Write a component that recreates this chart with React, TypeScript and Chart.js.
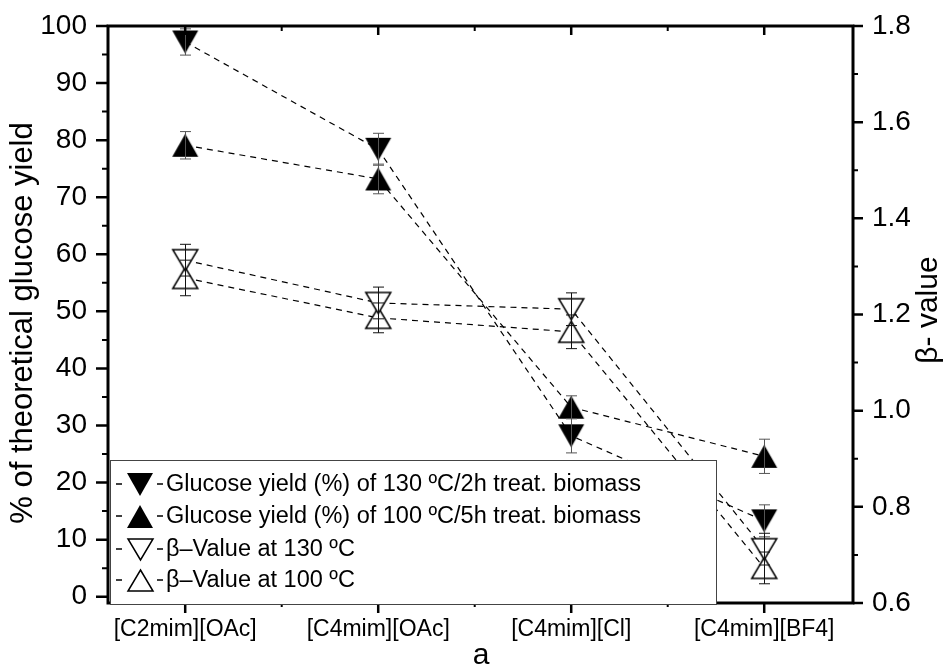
import React, { useEffect, useRef } from 'react';
import { Chart, registerables } from 'chart.js';

Chart.register(...registerables);

const categories = ['[C2mim][OAc]', '[C4mim][OAc]', '[C4mim][Cl]', '[C4mim][BF4]'];
const categoryPositions = [1, 2, 3, 4];

const glucose130 = [97.2, 78.4, 28.2, 13.3];
const glucose130Err = [2.3, 2.8, 3.0, 2.8];
const glucose100 = [79.1, 73.2, 33.2, 24.6];
const glucose100Err = [2.4, 2.6, 2.0, 3.0];
const beta130 = [1.313, 1.224, 1.211, 0.712];
const beta130Err = [0.033, 0.033, 0.034, 0.033];
const beta100 = [1.276, 1.193, 1.164, 0.673];
const beta100Err = [0.037, 0.031, 0.035, 0.033];

const leftTicks = [0, 10, 20, 30, 40, 50, 60, 70, 80, 90, 100];
const leftMinorTicks = [5, 15, 25, 35, 45, 55, 65, 75, 85, 95];
const rightTicks = [0.6, 0.8, 1.0, 1.2, 1.4, 1.6, 1.8];
const rightMinorTicks = [0.7, 0.9, 1.1, 1.3, 1.5, 1.7];
const xMinorTicks = [1.5, 2.5, 3.5];

const legendLabels = [
  'Glucose yield (%) of 130 \u00baC/2h treat. biomass',
  'Glucose yield (%) of 100 \u00baC/5h treat. biomass',
  '\u03b2\u2013Value at 130 \u00baC',
  '\u03b2\u2013Value at 100 \u00baC',
];
const leftTitle = '% of theoretical glucose yield';
const rightTitle = '\u03b2- value';
const bottomTitle = 'a';

const FONT = '"Liberation Sans", Arial, Helvetica, sans-serif';

function makeMarker(dir: 'up' | 'down', filled: boolean, w: number, h: number) {
  const pad = 2;
  const c = document.createElement('canvas');
  c.width = w + pad * 2;
  c.height = h + pad * 2;
  const ctx = c.getContext('2d')!;
  ctx.beginPath();
  if (dir === 'down') {
    ctx.moveTo(pad, pad);
    ctx.lineTo(pad + w, pad);
    ctx.lineTo(pad + w / 2, pad + h);
  } else {
    ctx.moveTo(pad + w / 2, pad);
    ctx.lineTo(pad + w, pad + h);
    ctx.lineTo(pad, pad + h);
  }
  ctx.closePath();
  if (filled) {
    ctx.fillStyle = '#000';
    ctx.fill();
  } else {
    ctx.fillStyle = '#fff';
    ctx.fill();
    ctx.lineWidth = 1.5;
    ctx.strokeStyle = '#000';
    ctx.stroke();
  }
  return c;
}

export default function App() {
  const ref = useRef<HTMLCanvasElement | null>(null);

  useEffect(() => {
    const canvas = ref.current;
    if (!canvas) return;

    const mDownFilled = makeMarker('down', true, 26, 23);
    const mUpFilled = makeMarker('up', true, 26, 23);
    const mDownHollow = makeMarker('down', false, 25, 21);
    const mUpHollow = makeMarker('up', false, 25, 21);
    const markers = [mDownFilled, mUpFilled, mDownHollow, mUpHollow];

    const toPts = (arr: number[]) => arr.map((v, i) => ({ x: categoryPositions[i], y: v }));

    const lineCommon = {
      borderColor: '#000',
      borderWidth: 1.2,
      borderDash: [6, 5],
      showLine: true,
      fill: false,
      tension: 0,
    };

    const errorBarPlugin = {
      id: 'errorBars',
      afterDatasetsDraw(chart: any) {
        const ctx = chart.ctx;
        ctx.save();
        chart.data.datasets.forEach((ds: any, i: number) => {
          const meta = chart.getDatasetMeta(i);
          const ys = chart.scales[ds.yAxisID];
          meta.data.forEach((pt: any, j: number) => {
            const v = ds.data[j].y;
            const e = ds.errors[j];
            const x = Math.round(pt.x) + 0.5;
            const y1 = ys.getPixelForValue(v - e);
            const y2 = ys.getPixelForValue(v + e);
            ctx.strokeStyle = ds.errColor;
            ctx.lineWidth = 1;
            ctx.beginPath();
            ctx.moveTo(x, y1);
            ctx.lineTo(x, y2);
            ctx.moveTo(x - 5.5, y1);
            ctx.lineTo(x + 5.5, y1);
            ctx.moveTo(x - 5.5, y2);
            ctx.lineTo(x + 5.5, y2);
            ctx.stroke();
          });
        });
        ctx.restore();
      },
    };

    const decorPlugin = {
      id: 'decor',
      afterDraw(chart: any) {
        const ctx = chart.ctx;
        const a = chart.chartArea;
        const xs = chart.scales.x;
        const yl = chart.scales.yLeft;
        const yr = chart.scales.yRight;
        ctx.save();
        ctx.strokeStyle = '#000';
        // ticks
        ctx.lineWidth = 2.5;
        ctx.beginPath();
        leftTicks.forEach((t) => {
          const y = yl.getPixelForValue(t);
          ctx.moveTo(a.left - 12, y);
          ctx.lineTo(a.left, y);
        });
        rightTicks.forEach((t) => {
          const y = yr.getPixelForValue(t);
          ctx.moveTo(a.right, y);
          ctx.lineTo(a.right + 10, y);
        });
        categoryPositions.forEach((t) => {
          const x = xs.getPixelForValue(t);
          ctx.moveTo(x, a.bottom);
          ctx.lineTo(x, a.bottom + 10);
          ctx.moveTo(x, a.top);
          ctx.lineTo(x, a.top + 9);
        });
        ctx.stroke();
        ctx.lineWidth = 2;
        ctx.beginPath();
        leftMinorTicks.forEach((t) => {
          const y = yl.getPixelForValue(t);
          ctx.moveTo(a.left - 6, y);
          ctx.lineTo(a.left, y);
        });
        rightMinorTicks.forEach((t) => {
          const y = yr.getPixelForValue(t);
          ctx.moveTo(a.right, y);
          ctx.lineTo(a.right + 5, y);
        });
        xMinorTicks.forEach((t) => {
          const x = xs.getPixelForValue(t);
          ctx.moveTo(x, a.bottom);
          ctx.lineTo(x, a.bottom + 4);
          ctx.moveTo(x, a.top);
          ctx.lineTo(x, a.top + 5);
        });
        ctx.stroke();
        // frame
        ctx.lineWidth = 3;
        ctx.strokeRect(a.left, a.top, a.right - a.left, a.bottom - a.top);

        // legend box
        const lx = 110, ly = 460, lw = 606, lh = 144;
        ctx.fillStyle = '#fff';
        ctx.fillRect(lx, ly, lw, lh);
        ctx.lineWidth = 1;
        ctx.strokeStyle = '#444';
        ctx.strokeRect(lx + 0.5, ly + 0.5, lw, lh);
        const rows = [484, 516, 549, 580];
        ctx.fillStyle = '#000';
        ctx.strokeStyle = '#000';
        ctx.font = `23.5px ${FONT}`;
        ctx.textBaseline = 'middle';
        ctx.textAlign = 'left';
        rows.forEach((ry, i) => {
          ctx.lineWidth = 1.5;
          ctx.beginPath();
          ctx.moveTo(116, ry);
          ctx.lineTo(122, ry);
          ctx.moveTo(157, ry);
          ctx.lineTo(163, ry);
          ctx.stroke();
          const m = markers[i];
          ctx.drawImage(m, Math.round(140 - m.width / 2), Math.round(ry - m.height / 2));
          ctx.fillText(legendLabels[i], 166, ry + 1);
        });

        // axis titles
        ctx.fillStyle = '#000';
        ctx.font = `31px ${FONT}`;
        ctx.textAlign = 'center';
        ctx.textBaseline = 'middle';
        ctx.save();
        ctx.translate(23, 323);
        ctx.rotate(-Math.PI / 2);
        ctx.fillText(leftTitle, 0, 0);
        ctx.restore();
        ctx.font = `30px ${FONT}`;
        ctx.save();
        ctx.translate(929, 310);
        ctx.rotate(-Math.PI / 2);
        ctx.fillText(rightTitle, 0, 0);
        ctx.restore();
        ctx.fillText(bottomTitle, 481, 656);
        ctx.restore();
      },
    };

    const chart = new Chart(canvas, {
      type: 'scatter',
      data: {
        datasets: [
          {
            ...lineCommon,
            label: legendLabels[0],
            data: toPts(glucose130),
            yAxisID: 'yLeft',
            pointStyle: mDownFilled,
            errors: glucose130Err,
            errColor: '#555',
          } as any,
          {
            ...lineCommon,
            label: legendLabels[1],
            data: toPts(glucose100),
            yAxisID: 'yLeft',
            pointStyle: mUpFilled,
            errors: glucose100Err,
            errColor: '#555',
          } as any,
          {
            ...lineCommon,
            label: legendLabels[2],
            data: toPts(beta130),
            yAxisID: 'yRight',
            pointStyle: mDownHollow,
            errors: beta130Err,
            errColor: '#111',
          } as any,
          {
            ...lineCommon,
            label: legendLabels[3],
            data: toPts(beta100),
            yAxisID: 'yRight',
            pointStyle: mUpHollow,
            errors: beta100Err,
            errColor: '#111',
          } as any,
        ],
      },
      options: {
        responsive: false,
        devicePixelRatio: 1,
        animation: false,
        events: [],
        layout: { padding: { top: 26, left: 0, right: 0, bottom: 0 } },
        plugins: { legend: { display: false }, tooltip: { enabled: false } },
        scales: {
          x: {
            type: 'linear',
            position: 'bottom',
            min: 0.6,
            max: 4.46,
            grid: { display: false, drawTicks: false },
            border: { display: false },
            afterBuildTicks: (s: any) => {
              s.ticks = categoryPositions.map((v) => ({ value: v }));
            },
            afterFit: (s: any) => {
              s.height = 68;
              s.paddingLeft = 0;
              s.paddingRight = 0;
            },
            ticks: {
              autoSkip: false,
              maxRotation: 0,
              minRotation: 0,
              padding: 13,
              color: '#000',
              font: { family: FONT, size: 23 },
              callback: (v: any) => categories[categoryPositions.indexOf(Number(v))] ?? '',
            },
          },
          yLeft: {
            type: 'linear',
            position: 'left',
            min: -1.1,
            max: 100,
            grid: { display: false, drawTicks: false },
            border: { display: false },
            afterBuildTicks: (s: any) => {
              s.ticks = leftTicks.map((v) => ({ value: v }));
            },
            afterFit: (s: any) => {
              s.width = 108;
              s.paddingTop = 0;
              s.paddingBottom = 0;
            },
            ticks: {
              padding: 21,
              color: '#000',
              font: { family: FONT, size: 28 },
              callback: (v: any) => String(v),
            },
          },
          yRight: {
            type: 'linear',
            position: 'right',
            min: 0.6,
            max: 1.8,
            grid: { display: false, drawTicks: false },
            border: { display: false },
            afterBuildTicks: (s: any) => {
              s.ticks = rightTicks.map((v) => ({ value: v }));
            },
            afterFit: (s: any) => {
              s.width = 98;
              s.paddingTop = 0;
              s.paddingBottom = 0;
            },
            ticks: {
              padding: 19,
              color: '#000',
              font: { family: FONT, size: 28 },
              callback: (v: any) => Number(v).toFixed(1),
            },
          },
        },
      } as any,
      plugins: [errorBarPlugin, decorPlugin],
    });

    return () => chart.destroy();
  }, []);

  return (
    <div style={{ position: 'fixed', left: 0, top: 0, width: 951, height: 671, background: '#fff' }}>
      <canvas ref={ref} width={951} height={671} style={{ display: 'block', width: 951, height: 671 }} />
    </div>
  );
}
